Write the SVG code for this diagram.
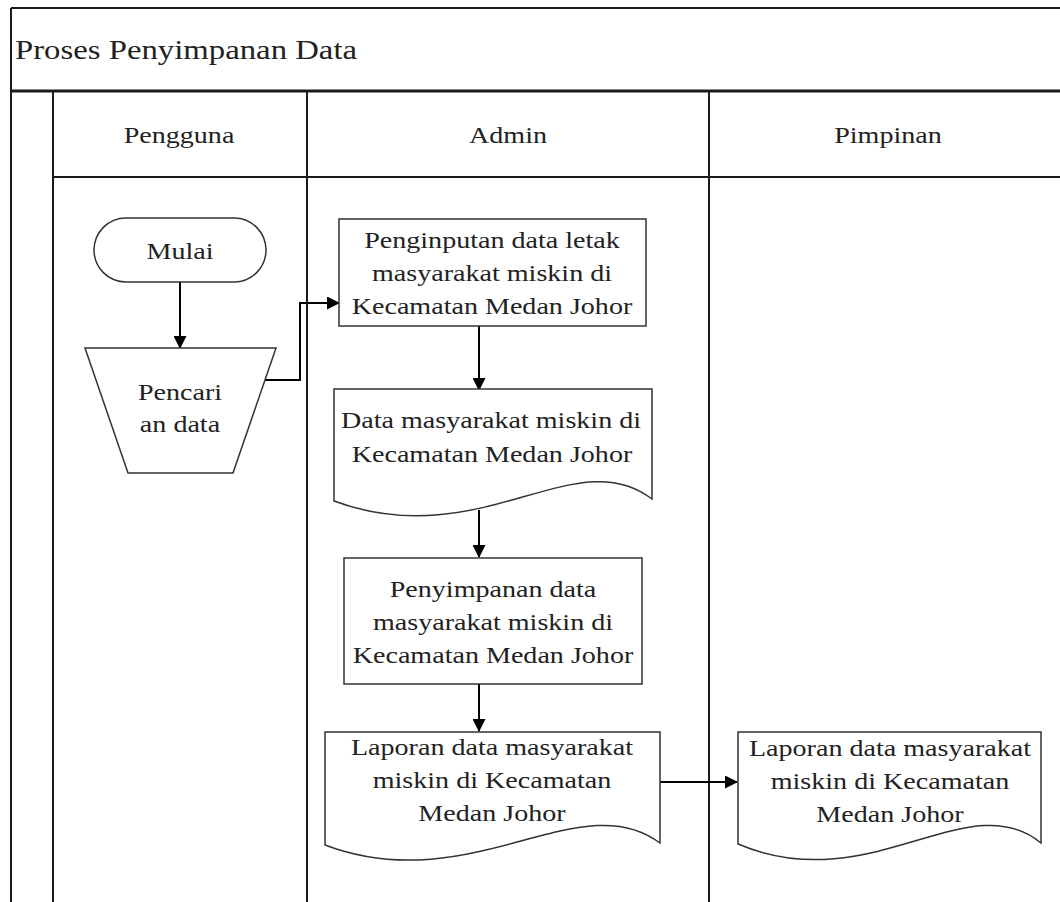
<svg xmlns="http://www.w3.org/2000/svg" width="1060" height="902" viewBox="0 0 1060 902">
  <style>
    .frame { stroke: #1a1a1a; stroke-width: 2; fill: none; }
    .thick { stroke-width: 3; }
    .node { stroke: #333; stroke-width: 1.5; fill: #fff; }
    .conn { stroke: #000; stroke-width: 2; fill: none; }
    .t { font-family: "Liberation Serif", "Times New Roman", serif; font-size: 24px; fill: #222; text-anchor: middle; }
    .title { font-family: "Liberation Serif", "Times New Roman", serif; font-size: 28px; fill: #222; }
  </style>
  <defs>
    <marker id="arrow" markerWidth="13" markerHeight="13" refX="12" refY="6.5" orient="auto" markerUnits="userSpaceOnUse">
      <path d="M0,0 L13,6.5 L0,13 z" fill="#000"/>
    </marker>
  </defs>
  <rect width="1060" height="902" fill="#fff"/>

  <g id="pool">
    <line class="frame" x1="11" y1="8" x2="1060" y2="8"/>
    <line class="frame" x1="11" y1="8" x2="11" y2="902"/>
    <line class="frame thick" x1="11" y1="91" x2="1060" y2="91"/>
    <line class="frame" x1="53" y1="91" x2="53" y2="902"/>
    <line class="frame" x1="53" y1="177" x2="1060" y2="177"/>
    <line class="frame" x1="307" y1="91" x2="307" y2="902"/>
    <line class="frame" x1="709" y1="91" x2="709" y2="902"/>
    <text class="title" transform="translate(15,59) scale(1.17,1)">Proses Penyimpanan Data</text>
  </g>

  <g id="lane-pengguna"><text class="t" transform="translate(179,143) scale(1.17,1)">Pengguna</text></g>
  <g id="lane-admin"><text class="t" transform="translate(508,143) scale(1.17,1)">Admin</text></g>
  <g id="lane-pimpinan"><text class="t" transform="translate(888,143) scale(1.17,1)">Pimpinan</text></g>

  <g id="connectors">
    <path class="conn" d="M180,282 V348" marker-end="url(#arrow)"/>
    <path class="conn" d="M260,380 H300 V303 H339" marker-end="url(#arrow)"/>
    <path class="conn" d="M479,326 V390" marker-end="url(#arrow)"/>
    <path class="conn" d="M479,510 V557" marker-end="url(#arrow)"/>
    <path class="conn" d="M479,684 V731" marker-end="url(#arrow)"/>
    <path class="conn" d="M660,782 H737" marker-end="url(#arrow)"/>
  </g>

  <g id="mulai">
    <rect class="node" x="94" y="218" width="172" height="64" rx="32" ry="32"/>
    <text class="t" transform="translate(180,259) scale(1.17,1)">Mulai</text>
  </g>

  <g id="pencarian">
    <path class="node" d="M85,348 H276 L233,473 H128 Z"/>
    <text class="t" transform="translate(180,400) scale(1.17,1)">Pencari</text>
    <text class="t" transform="translate(180,432) scale(1.17,1)">an data</text>
  </g>

  <g id="penginputan">
    <rect class="node" x="339" y="219" width="307" height="107"/>
    <text class="t" transform="translate(492,248) scale(1.17,1)">Penginputan data letak</text>
    <text class="t" transform="translate(492,281) scale(1.17,1)">masyarakat miskin di</text>
    <text class="t" transform="translate(492,314) scale(1.17,1)">Kecamatan Medan Johor</text>
  </g>

  <g id="data-doc">
    <path class="node" d="M334,389 H652 V499 C575,440 480,555 334,501 Z"/>
    <text class="t" transform="translate(491,428) scale(1.17,1)">Data masyarakat miskin di</text>
    <text class="t" transform="translate(492,462) scale(1.17,1)">Kecamatan Medan Johor</text>
  </g>

  <g id="penyimpanan">
    <rect class="node" x="344" y="558" width="298" height="126"/>
    <text class="t" transform="translate(493,597) scale(1.17,1)">Penyimpanan data</text>
    <text class="t" transform="translate(493,630) scale(1.17,1)">masyarakat miskin di</text>
    <text class="t" transform="translate(493,663) scale(1.17,1)">Kecamatan Medan Johor</text>
  </g>

  <g id="laporan-admin">
    <path class="node" d="M325,732 H660 V843 C580,783 470,900 325,845 Z"/>
    <text class="t" transform="translate(492,755) scale(1.17,1)">Laporan data masyarakat</text>
    <text class="t" transform="translate(492,788) scale(1.17,1)">miskin di Kecamatan</text>
    <text class="t" transform="translate(492,821) scale(1.17,1)">Medan Johor</text>
  </g>

  <g id="laporan-pimpinan">
    <path class="node" d="M738,732 H1041 V843 C968,783 870,900 738,844 Z"/>
    <text class="t" transform="translate(890,756) scale(1.17,1)">Laporan data masyarakat</text>
    <text class="t" transform="translate(890,789) scale(1.17,1)">miskin di Kecamatan</text>
    <text class="t" transform="translate(890,822) scale(1.17,1)">Medan Johor</text>
  </g>
</svg>
